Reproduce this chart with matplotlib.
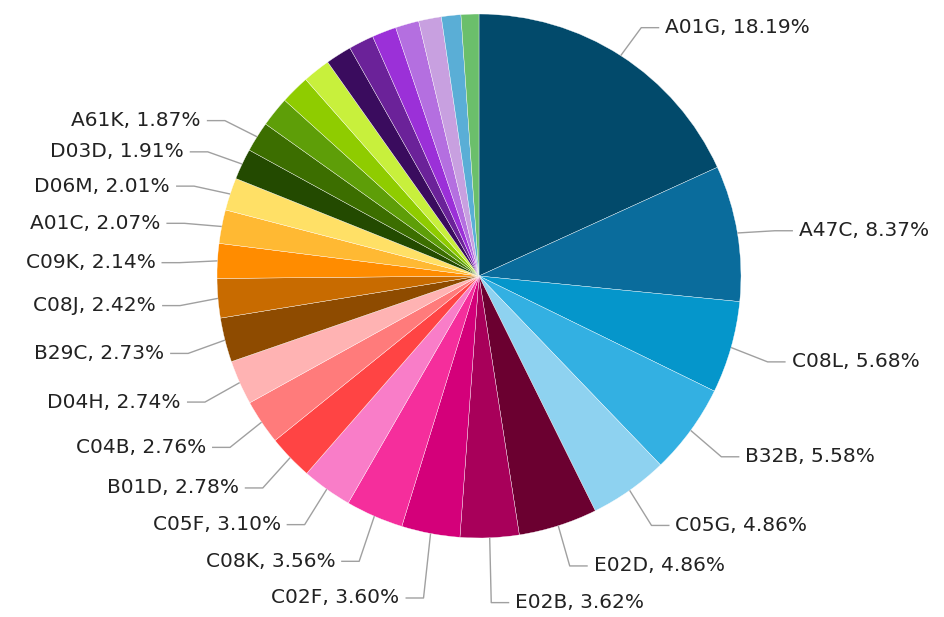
import numpy as np
import matplotlib
matplotlib.use('Agg')
import matplotlib.pyplot as plt

# labelled slices, clockwise from 12 o'clock
codes = ['A01G', 'A47C', 'C08L', 'B32B', 'C05G', 'E02D', 'E02B', 'C02F', 'C08K', 'C05F',
         'B01D', 'C04B', 'D04H', 'B29C', 'C08J', 'C09K', 'A01C', 'D06M', 'D03D', 'A61K']
shares = [18.19, 8.37, 5.68, 5.58, 4.86, 4.86, 3.62, 3.60, 3.56, 3.10,
          2.78, 2.76, 2.74, 2.73, 2.42, 2.14, 2.07, 2.01, 1.91, 1.87]
# small unlabelled slices at the top left (estimated)
small_shares = [1.85, 1.80, 1.70, 1.60, 1.55, 1.50, 1.45, 1.40, 1.20, 1.10]

colors = ['#024A6B', '#0A6C9C', '#0596CB', '#33B0E2', '#8ED2F0', '#6B0030', '#A8005A',
          '#D4007A', '#F52E9C', '#F97DC8', '#FF4444', '#FF7B7B', '#FFB3B3', '#8E4B00',
          '#C86B00', '#FF8C00', '#FFB933', '#FFE066', '#234A00', '#3C6E00',
          '#5E9E08', '#8FCC00', '#C8F03C', '#3A0C5E', '#6B2299', '#9B30D8', '#B46FE0',
          '#C8A0E0', '#5AAED6', '#6BBF6B']

values = shares + small_shares
labels = [f'{c}, {s:.2f}%' for c, s in zip(codes, shares)]

fig = plt.figure(figsize=(9.44, 6.17), dpi=100)
ax = fig.add_axes([0, 0, 1, 1])
ax.axis('off')

wedges, _ = ax.pie(values, colors=colors, startangle=90, counterclock=False, radius=1,
                   wedgeprops=dict(edgecolor='white', linewidth=0.25), normalize=True)
ax.set_xlim(-479 / 262, (944 - 479) / 262)
ax.set_ylim(-(617 - 276) / 262, 276 / 262)
ax.set_aspect('auto')

R = 1.145
gap = 0.14
px = 1 / 262.0
items = []
for w, lab in zip(wedges[:len(shares)], labels):
    th = np.deg2rad((w.theta1 + w.theta2) / 2)
    side = 1 if np.cos(th) >= 0 else -1
    items.append(dict(th=th, side=side, x=R * np.cos(th), y=R * np.sin(th) - 4 * px, lab=lab))

# push crowded labels in the lower half downwards
for side in (1, -1):
    grp = sorted([it for it in items if it['side'] == side], key=lambda d: -d['y'])
    prev = None
    for it in grp:
        if prev is not None and it['y'] < 0 and prev['y'] - it['y'] < gap:
            it['y'] = prev['y'] - gap
        prev = it

for it in items:
    ex, ey = np.cos(it['th']), np.sin(it['th'])
    s = it['side']
    ax.plot([ex, it['x'], it['x'] + s * 18 * px], [ey, it['y'], it['y']],
            color='#a0a0a0', lw=1, solid_capstyle='butt')
    ax.text(it['x'] + s * 24 * px, it['y'], it['lab'], ha='left' if s > 0 else 'right',
            va='center', fontsize=14.5, color='#222222', family='DejaVu Sans')

fig.savefig('out.png', dpi=100, facecolor='white')
